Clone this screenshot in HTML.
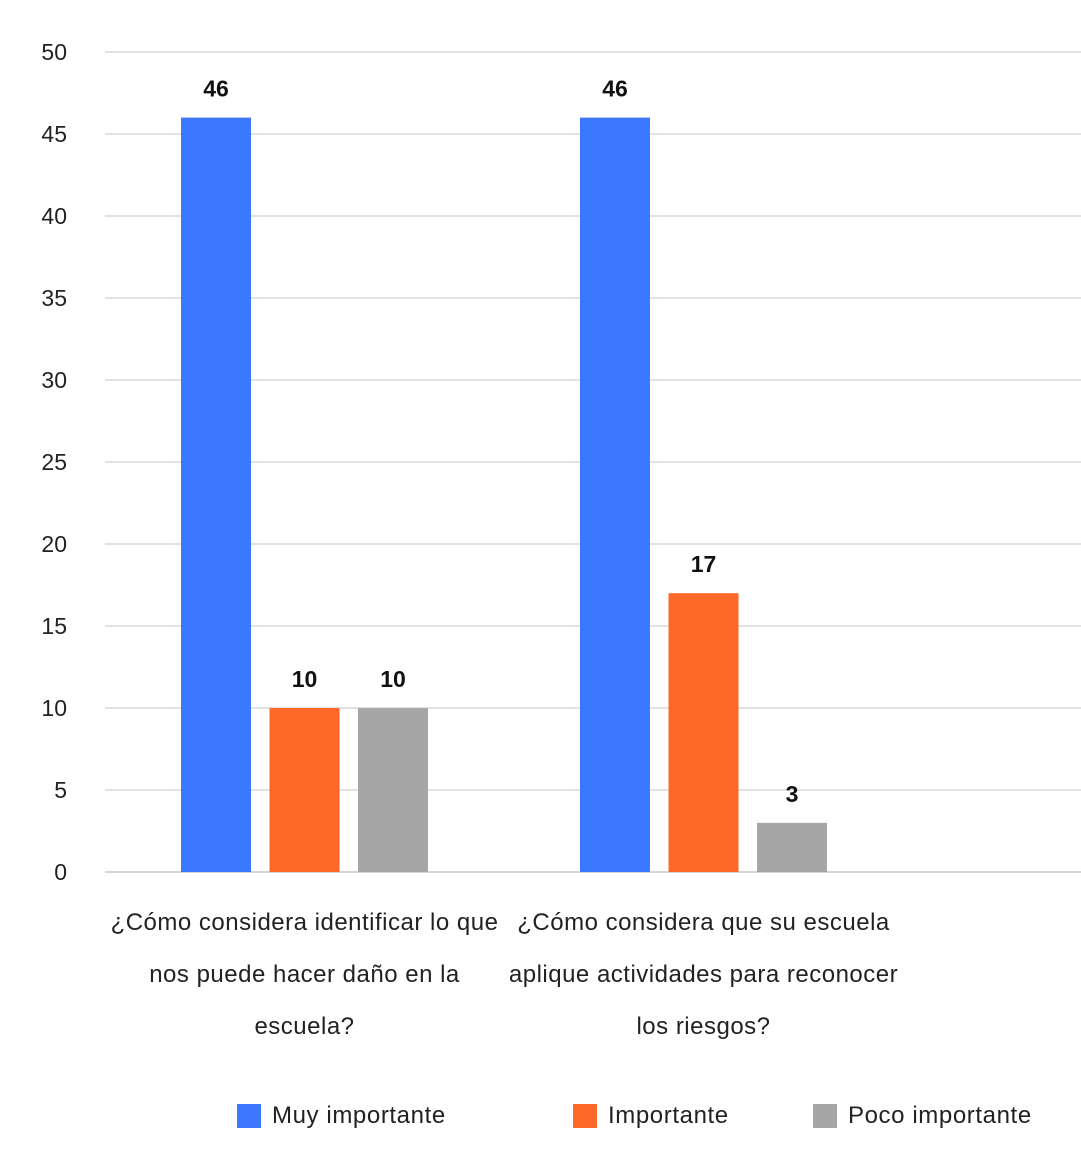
<!DOCTYPE html>
<html><head><meta charset="utf-8"><style>
html,body{margin:0;padding:0;background:#fff;}
svg{display:block;font-family:"Liberation Sans","DejaVu Sans",sans-serif;}
</style></head><body>
<svg id="chart" width="1081" height="1175" viewBox="0 0 1081 1175" xmlns="http://www.w3.org/2000/svg">
<g id="grid"></g>
<g id="yticks"></g>
<g id="bars"></g>
<g id="xlabels"></g>
<g id="legend"></g>
</svg>
<script>
const categories = [
  ["¿Cómo considera identificar lo que","nos puede hacer daño en la","escuela?"],
  ["¿Cómo considera que su escuela","aplique actividades para reconocer","los riesgos?"]
];
const seriesNames = ["Muy importante","Importante","Poco importante"];
const muyImportante = [46, 46];
const importante = [10, 17];
const pocoImportante = [10, 3];
const yTicks = [0,5,10,15,20,25,30,35,40,45,50];

const series = [muyImportante, importante, pocoImportante];
const colors = ["#3b78ff","#ff6828","#a6a6a6"];
const NS = "http://www.w3.org/2000/svg";
const y0 = 872, y1 = 52, yMax = 50;
const plotL = 105, plotR = 1081, band = 399;
const y = v => y0 - (y0 - y1) * v / yMax;
const barW = 70, barStep = 88.5, barOff = 76;
function mk(tag, attrs, parent, text){
  const e = document.createElementNS(NS, tag);
  for (const k in attrs) e.setAttribute(k, attrs[k]);
  if (text !== undefined) e.textContent = text;
  parent.appendChild(e); return e;
}
const grid = document.getElementById('grid');
const yt = document.getElementById('yticks');
yTicks.forEach(t => {
  const l = mk('line', {x1:plotL, x2:plotR, y1:y(t), y2:y(t), stroke: t===0?'#c8c8c8':'#d9d9d9', 'stroke-width':1.5}, grid);
  
  
  const tx = mk('text', {x:67, y:y(t)+8, 'text-anchor':'end', 'font-size':23, fill:'#222'}, yt, String(t));
  
  
});
const bars = document.getElementById('bars');
categories.forEach((c, ci) => {
  series.forEach((s, si) => {
    const v = s[ci];
    const x = plotL + ci * band + barOff + si * barStep;
    const r = mk('rect', {x:x, y:y(v), width:barW, height:y0 - y(v), fill:colors[si]}, bars);
    
    
    const t = mk('text', {x:x + barW/2, y:y(v) - 21, 'text-anchor':'middle', 'font-size':23, 'font-weight':'bold', fill:'#111'}, bars, String(v));
    
    
  });
  const xl = document.getElementById('xlabels');
  c.forEach((line, li) => {
    const t = mk('text', {x:plotL + ci*band + band/2, y:930 + li*52, 'text-anchor':'middle', 'font-size':24, 'letter-spacing':0.5, fill:'#222'}, xl, line);
    
    
  });
});
const lg = document.getElementById('legend');
const legX = [237, 573, 813];
seriesNames.forEach((n, i) => {
  const r = mk('rect', {x:legX[i], y:1104, width:24, height:24, fill:colors[i]}, lg);
  
  
  const t = mk('text', {x:legX[i] + 35, y:1123, 'font-size':24, 'letter-spacing':0.6, fill:'#222'}, lg, n);
  
  
});
</script>
</body></html>
